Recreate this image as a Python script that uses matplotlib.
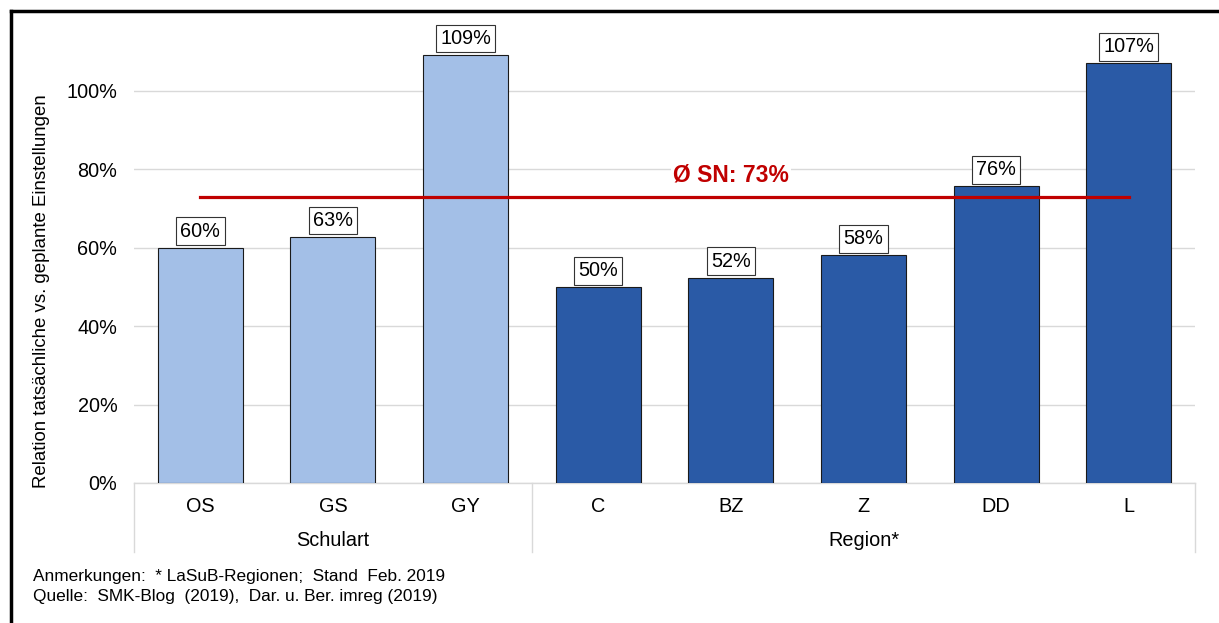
import matplotlib
matplotlib.use("Agg")
import matplotlib.pyplot as plt
from matplotlib.lines import Line2D
from matplotlib.ticker import FuncFormatter
import matplotlib.transforms as mtransforms

plt.rcParams['font.family'] = ['Liberation Sans', 'DejaVu Sans']

categories = ["OS", "GS", "GY", "C", "BZ", "Z", "DD", "L"]
values = [0.60, 0.628, 1.092, 0.499, 0.524, 0.581, 0.757, 1.071]
labels = ["60%", "63%", "109%", "50%", "52%", "58%", "76%", "107%"]
groups = ["Schulart", "Region*"]
group_sizes = [3, 5]
average = 0.73
average_label = "Ø SN: 73%"
yticks = [0, 0.2, 0.4, 0.6, 0.8, 1.0]

light = "#A3BFE7"
dark = "#2A5AA6"
colors = [light] * group_sizes[0] + [dark] * group_sizes[1]

FS = 14.3

W, H = 1219, 623
fig = plt.figure(figsize=(W / 100, H / 100), dpi=100)

ax_left, ax_right = 134, 1195
y0, px_per_unit = 483, 392
ymax = 1.18
ax_top = y0 - ymax * px_per_unit
ax = fig.add_axes([ax_left / W, (H - y0) / H, (ax_right - ax_left) / W, (y0 - ax_top) / H])

x = list(range(len(categories)))
ax.bar(x, values, width=0.64, color=colors, edgecolor="#1a1a1a", linewidth=0.8, zorder=3)
ax.set_xlim(-0.5, len(categories) - 0.5)
ax.set_ylim(0, ymax)
ax.set_yticks(yticks)
ax.yaxis.set_major_formatter(FuncFormatter(lambda v, p: f"{v*100:.0f}%"))
ax.tick_params(axis='y', length=0, labelsize=FS, pad=12)
ax.set_xticks([])
ax.grid(axis='y', color="#D9D9D9", linewidth=1, zorder=0)
for s in ["top", "right", "left"]:
    ax.spines[s].set_visible(False)
ax.spines["bottom"].set_color("#D9D9D9")
ax.spines["bottom"].set_linewidth(1)

for xi, v, lab in zip(x, values, labels):
    ax.annotate(lab, (xi, v), xytext=(0, 5), textcoords="offset points",
                ha="center", va="bottom", fontsize=FS, zorder=5,
                bbox=dict(boxstyle="square,pad=0.22", fc="white", ec="#333333", lw=0.8))

# average line
ax.plot([0, len(categories) - 1], [average, average], color="#C00000", linewidth=2.3, zorder=4)
ax.text(4, 0.786, average_label, ha="center", va="center", color="#C00000",
        fontsize=16.5, fontweight="bold", zorder=5,
        bbox=dict(boxstyle="square,pad=0.1", fc="white", ec="none"))

# category & group labels
trans = mtransforms.blended_transform_factory(ax.transData, ax.transAxes)
yaxis_px = y0 - ax_top
for xi, c in zip(x, categories):
    ax.text(xi, -(506 - y0) / yaxis_px, c, transform=trans, ha="center", va="center", fontsize=FS)
start = 0
seps = [-0.5]
for g, n in zip(groups, group_sizes):
    center = start + (n - 1) / 2
    ax.text(center, -(541 - y0) / yaxis_px, g, transform=trans, ha="center", va="center", fontsize=FS)
    start += n
    seps.append(start - 0.5)
for s in seps:
    ax.add_line(Line2D([s, s], [0, -(552 - y0) / yaxis_px], transform=trans,
                       color="#D9D9D9", linewidth=1, clip_on=False))

fig.text(42 / W, 1 - 291 / H, "Relation tatsächliche vs. geplante Einstellungen",
         rotation=90, ha="center", va="center", fontsize=13.4)

fig.text(33 / W, 1 - 577 / H, "Anmerkungen:  * LaSuB-Regionen;  Stand  Feb. 2019",
         ha="left", va="center", fontsize=12.4)
fig.text(33 / W, 1 - 597 / H, "Quelle:  SMK-Blog  (2019),  Dar. u. Ber. imreg (2019)",
         ha="left", va="center", fontsize=12.4)

# frame (left and top edges)
fig.add_artist(Line2D([11 / W, 11 / W], [0, 1 - 11 / H], transform=fig.transFigure, color="black", linewidth=2.5))
fig.add_artist(Line2D([11 / W, 1], [1 - 11 / H, 1 - 11 / H], transform=fig.transFigure, color="black", linewidth=2.5))

fig.savefig("out.png", dpi=100, facecolor="white")
